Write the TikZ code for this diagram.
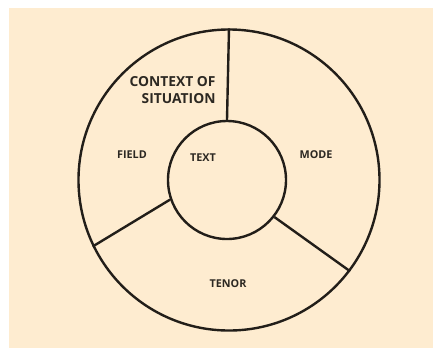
\documentclass[tikz,border=0pt]{standalone}
\usepackage{fontspec}
\setmainfont{Open Sans}
\usetikzlibrary{positioning}
\definecolor{paper}{RGB}{254,236,208}
\definecolor{ink}{RGB}{34,30,25}
\definecolor{letters}{RGB}{44,40,34}

\begin{document}
\begin{tikzpicture}[x=1pt,y=-1pt,line width=2.4pt,
  ring/.style={circle,draw=ink,inner sep=0pt},
  sector/.style={font=\bfseries\fontsize{10.8}{12}\selectfont,text=letters},
  heading/.style={font=\bfseries\fontsize{13.8}{17}\selectfont,text=letters,align=right}]
  \useasboundingbox (0,0) rectangle (433,349);
  \fill[paper] (9,8) rectangle (433,348);

  \node[ring,minimum size=301pt] (outer) at (229,180) {};
  \node[ring,minimum size=118pt] (inner) at (227,180) {};

  \node[heading,anchor=east] (context) at (220,90) {CONTEXT OF\\SITUATION};
  \node[sector] (field) at (132,155) {FIELD};
  \node[sector] (text) at (203,158) {TEXT};
  \node[sector] (mode) at (316,155) {MODE};
  \node[sector] (tenor) at (228,284) {TENOR};

  \draw[ink] (inner.90) -- (outer.90);
  \draw[ink] (inner.199) -- (outer.206);
  \draw[ink] (inner.-38) -- (outer.-37);
\end{tikzpicture}
\end{document}
